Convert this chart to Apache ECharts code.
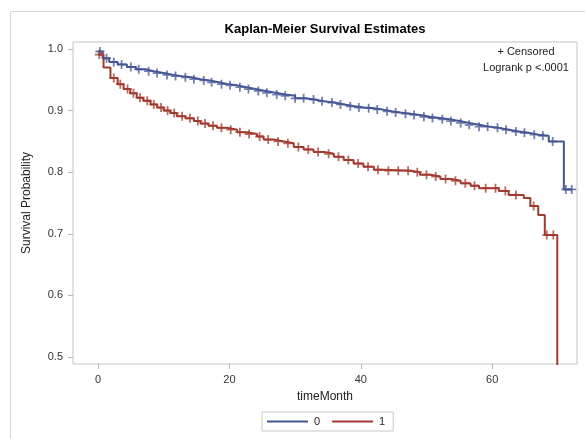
<!DOCTYPE html>
<html>
<head>
<meta charset="utf-8">
<script src="https://cdn.jsdelivr.net/npm/echarts@6/dist/echarts.min.js"></script>
<style>
  html, body { margin: 0; padding: 0; background: #ffffff; }
  #chart { width: 585px; height: 439px; }
</style>
</head>
<body>
<div id="chart"></div>
<script>
// Kaplan-Meier step estimates per group: event time (months) and survival after it
const group0Times = [0, 0.7, 1.7, 3.0, 4.4, 5.8, 7.2, 8.5, 10.0, 11.5, 12.8, 14.2, 15.6, 17.0, 18.4, 19.8,
  21.2, 22.6, 24.0, 25.5, 27.0, 28.5, 30.0, 31.5, 33.0, 34.5, 36.0, 37.5, 39.0, 40.5, 42.0, 43.2,
  44.6, 46.0, 47.5, 49.0, 50.5, 52.0, 53.5, 55.0, 56.5, 58.0, 59.5, 61.0, 62.5, 64.0, 65.5, 67.0,
  68.6, 70.9, 72.2];
const group0Surv = [0.996, 0.985, 0.979, 0.975, 0.971, 0.967, 0.964, 0.961, 0.958, 0.956, 0.954, 0.951, 0.949, 0.946, 0.943, 0.941,
  0.938, 0.935, 0.932, 0.929, 0.926, 0.924, 0.920, 0.918, 0.915, 0.913, 0.910, 0.907, 0.905, 0.904, 0.902, 0.899,
  0.897, 0.895, 0.893, 0.890, 0.888, 0.886, 0.883, 0.880, 0.877, 0.874, 0.872, 0.869, 0.866, 0.864, 0.861, 0.859,
  0.850, 0.772, 0.772];

const group1Times = [0, 0.85, 1.9, 3.0, 3.9, 4.9, 5.9, 6.9, 8.0, 9.0, 10.0, 11.0, 12.0, 13.3, 14.6, 15.6,
  16.8, 18.1, 19.6, 21.2, 22.7, 24.2, 25.2, 26.7, 28.3, 29.8, 31.3, 32.8, 34.4, 35.9, 37.4, 38.9,
  40.4, 42.0, 43.5, 47.5, 49.0, 50.6, 52.1, 53.7, 55.2, 56.7, 58.0, 61.0, 62.5, 64.8, 65.8, 67.0,
  68.0, 69.9];
const group1Surv = [0.991, 0.970, 0.953, 0.943, 0.935, 0.928, 0.921, 0.916, 0.910, 0.905, 0.900, 0.896, 0.891, 0.8875, 0.883, 0.879,
  0.8755, 0.872, 0.869, 0.865, 0.862, 0.858, 0.853, 0.850, 0.847, 0.841, 0.837, 0.833, 0.830, 0.825, 0.820, 0.814,
  0.809, 0.804, 0.8025, 0.800, 0.796, 0.793, 0.789, 0.786, 0.782, 0.778, 0.774, 0.7695, 0.763, 0.758, 0.745, 0.7305,
  0.698, 0.349];

// Censoring times for each group
const group0Censored = [0.3, 1.3, 2.4, 3.6, 5.0, 6.2, 7.7, 9.0, 10.5, 11.8, 13.3, 14.6, 16.1, 17.3, 18.8, 20.1,
  21.6, 22.9, 24.4, 25.7, 27.2, 28.5, 30.0, 31.3, 32.8, 34.1, 35.6, 36.9, 38.4, 39.7, 41.2, 42.5,
  44.0, 45.3, 46.8, 48.1, 49.6, 50.9, 52.4, 53.7, 55.2, 56.5, 58.0, 59.3, 60.8, 62.1, 63.6, 64.9,
  66.4, 67.7, 69.2, 71.2, 72.1];
const group1Censored = [0.2, 2.4, 3.4, 4.5, 5.4, 6.4, 7.5, 8.5, 9.6, 10.6, 11.6, 12.8, 14.0, 15.2, 16.3, 17.5,
  18.8, 20.2, 21.6, 23.0, 24.6, 25.9, 27.4, 28.9, 30.5, 32.0, 33.5, 35.1, 36.6, 38.1, 39.6, 41.1,
  42.6, 44.2, 45.7, 47.2, 48.6, 50.0, 51.4, 52.9, 54.4, 55.9, 57.3, 59.0, 60.5, 62.0, 63.6, 66.3,
  68.3, 69.3];

const groupNames = ['0', '1'];
const xTicks = [0, 20, 40, 60];
const yTicks = [0.5, 0.6, 0.7, 0.8, 0.9, 1.0];

const BLUE = '#445694';
const RED = '#A23A2E';
const FONT = '"Liberation Sans", Arial, sans-serif';

function survivalAt(times, surv, t) {
  let v = surv[0];
  for (let i = 0; i < times.length; i++) {
    if (times[i] <= t) v = surv[i]; else break;
  }
  return v;
}

function stepData(times, surv) {
  return times.map((t, i) => [t, surv[i]]);
}

function censorData(cTimes, times, surv) {
  return cTimes.map(t => [t, survivalAt(times, surv, t)]);
}

const plusPath = 'path://M4,0H6V4H10V6H6V10H4V6H0V4H4Z';

const chart = echarts.init(document.getElementById('chart'), null, { renderer: 'canvas' });

chart.setOption({
  animation: false,
  backgroundColor: '#ffffff',
  textStyle: { fontFamily: FONT },
  grid: {
    left: 73, top: 42, right: 8, bottom: 75,
    show: true, borderColor: '#c4c4c4', borderWidth: 1, backgroundColor: 'transparent'
  },
  xAxis: {
    type: 'value',
    min: -3.8, max: 72.9,
    name: 'timeMonth',
    nameLocation: 'middle',
    nameGap: 27,
    nameTextStyle: { color: '#222', fontSize: 12, fontFamily: FONT },
    axisLine: { show: false, onZero: false },
    axisTick: { show: true, length: 5, lineStyle: { color: '#b8b8b8' }, customValues: xTicks },
    axisLabel: { color: '#333', fontSize: 11, margin: 10, fontFamily: FONT, customValues: xTicks },
    splitLine: { show: false }
  },
  yAxis: {
    type: 'value',
    min: 0.4886, max: 1.0114,
    name: 'Survival Probability',
    nameLocation: 'middle',
    nameGap: 40,
    nameRotate: 90,
    nameTextStyle: { color: '#222', fontSize: 12, fontFamily: FONT },
    axisLine: { show: false, onZero: false },
    axisTick: { show: true, length: 5, lineStyle: { color: '#b8b8b8' }, customValues: yTicks },
    axisLabel: {
      color: '#333', fontSize: 11, margin: 10, fontFamily: FONT, customValues: yTicks,
      formatter: v => v.toFixed(1)
    },
    splitLine: { show: false }
  },
  legend: {
    data: groupNames,
    left: 262, top: 412,
    orient: 'horizontal',
    icon: 'rect',
    itemWidth: 41, itemHeight: 2,
    itemGap: 12,
    padding: [4, 8, 4, 5],
    borderColor: '#c8c8c8', borderWidth: 1,
    textStyle: { color: '#222', fontSize: 11, fontFamily: FONT, padding: [0, 0, 0, 1] }
  },
  graphic: [
    {
      type: 'rect', silent: true,
      shape: { x: 10.5, y: 11.5, width: 620, height: 460 },
      style: { fill: 'none', stroke: '#d6d6d6', lineWidth: 1 }
    },
    {
      type: 'text', silent: true, x: 325, y: 29,
      style: {
        text: 'Kaplan-Meier Survival Estimates', fill: '#000', font: 'bold 13px ' + FONT,
        textAlign: 'center', textVerticalAlign: 'middle'
      }
    },
    {
      type: 'text', silent: true, x: 526, y: 52,
      style: {
        text: '+ Censored', fill: '#222', font: '11px ' + FONT,
        textAlign: 'center', textVerticalAlign: 'middle'
      }
    },
    {
      type: 'text', silent: true, x: 526, y: 68,
      style: {
        text: 'Logrank p <.0001', fill: '#222', font: '11px ' + FONT,
        textAlign: 'center', textVerticalAlign: 'middle'
      }
    }
  ],
  series: [
    {
      name: groupNames[0], type: 'line', step: 'end', showSymbol: false, clip: true,
      data: stepData(group0Times, group0Surv),
      lineStyle: { color: BLUE, width: 2 }, itemStyle: { color: BLUE }, z: 3
    },
    {
      name: groupNames[1], type: 'line', step: 'end', showSymbol: false, clip: true,
      data: stepData(group1Times, group1Surv),
      lineStyle: { color: RED, width: 2 }, itemStyle: { color: RED }, z: 3
    },
    {
      name: 'censor0', type: 'scatter', symbol: plusPath, symbolSize: 9, symbolKeepAspect: true,
      data: censorData(group0Censored, group0Times, group0Surv),
      itemStyle: { color: BLUE, opacity: 0.75 }, z: 4, clip: true
    },
    {
      name: 'censor1', type: 'scatter', symbol: plusPath, symbolSize: 9, symbolKeepAspect: true,
      data: censorData(group1Censored, group1Times, group1Surv),
      itemStyle: { color: RED, opacity: 0.75 }, z: 4, clip: true
    }
  ]
});
</script>
</body>
</html>
